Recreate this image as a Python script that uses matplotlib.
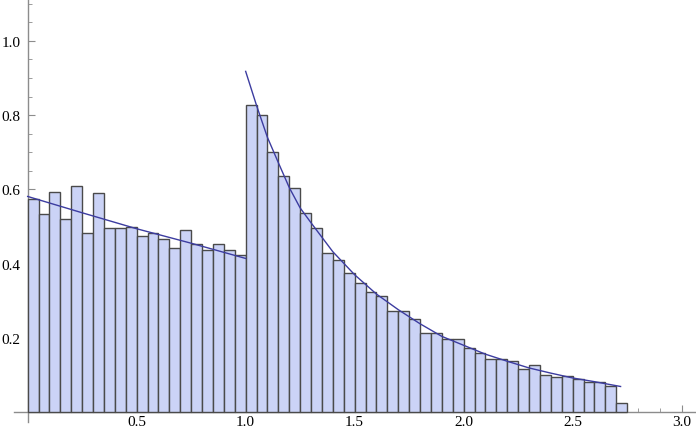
import numpy as np
import matplotlib.pyplot as plt
from matplotlib.ticker import FixedLocator

# histogram bins (width 0.05) starting at 0
bin_width = 0.05
heights = [
	0.574, 0.533, 0.592, 0.520, 0.610, 0.482, 0.590, 0.495, 0.495, 0.500,
	0.474, 0.483, 0.466, 0.441, 0.491, 0.454, 0.437, 0.452, 0.437, 0.422,
	0.828, 0.801, 0.702, 0.636, 0.605, 0.537, 0.496, 0.430, 0.411, 0.374,
	0.349, 0.323, 0.312, 0.273, 0.273, 0.252, 0.212, 0.212, 0.198, 0.198,
	0.174, 0.160, 0.142, 0.142, 0.138, 0.116, 0.127, 0.100, 0.094, 0.098,
	0.089, 0.080, 0.080, 0.071, 0.024,
]

# fitted density, left piece
fit_left_x = [0.0, 0.25, 0.5, 0.75, 1.0]
fit_left_y = [0.581, 0.537, 0.494, 0.455, 0.414]

# fitted density, right piece
fit_right_x = [1.0, 1.05, 1.1, 1.15, 1.2, 1.25, 1.3, 1.4, 1.5, 1.6, 1.7,
			   1.8, 1.9, 2.0, 2.1, 2.2, 2.3, 2.4, 2.5, 2.6, 2.72]
fit_right_y = [0.918, 0.826, 0.740, 0.672, 0.605, 0.550, 0.510, 0.432, 0.370,
			   0.318, 0.276, 0.238, 0.204, 0.180, 0.156, 0.137, 0.119, 0.105,
			   0.092, 0.082, 0.069]

x_ticks = [0.5, 1.0, 1.5, 2.0, 2.5, 3.0]
y_ticks = [0.2, 0.4, 0.6, 0.8, 1.0]

plt.rcParams['font.family'] = ['Liberation Serif', 'DejaVu Serif']

fig = plt.figure(figsize=(6.96, 4.35), dpi=100)
ax = fig.add_axes([0, 0, 1, 1])

lefts = np.arange(len(heights)) * bin_width
ax.bar(lefts, heights, width=bin_width, align="edge",
	   facecolor="#cbd3f6", edgecolor="#4a4a4a", linewidth=1.0, zorder=2)

curve_col = "#3c3ca0"
ax.plot(fit_left_x, fit_left_y, color=curve_col, lw=1.0, zorder=3)
ax.plot(fit_right_x, fit_right_y, color=curve_col, lw=1.0, zorder=3)

ax.set_xlim(-0.127, 3.066)
ax.set_ylim(-0.059, 1.113)

for s in ["top", "right"]:
	ax.spines[s].set_visible(False)
ax.spines["left"].set_position(("data", 0))
ax.spines["bottom"].set_position(("data", 0))
ax.spines["left"].set_bounds(-0.027, 1.113)
ax.spines["bottom"].set_bounds(-0.063, 3.066)
for s in ["left", "bottom"]:
	ax.spines[s].set_color("#8c8c8c")
	ax.spines[s].set_linewidth(1.0)
	ax.spines[s].set_zorder(1)

ax.xaxis.set_major_locator(FixedLocator(x_ticks))
ax.xaxis.set_minor_locator(FixedLocator(np.arange(1, 31) * 0.1))
ax.yaxis.set_major_locator(FixedLocator(y_ticks))
ax.yaxis.set_minor_locator(FixedLocator(np.arange(1, 23) * 0.05))
ax.set_xticklabels([f"{t:.1f}" for t in x_ticks])
ax.set_yticklabels([f"{t:.1f}" for t in y_ticks])

ax.tick_params(axis="both", which="both", direction="in", color="#8c8c8c",
			   labelsize=11, labelcolor="black")
ax.tick_params(axis="both", which="major", length=5, width=0.8)
ax.tick_params(axis="both", which="minor", length=3, width=0.6)
ax.tick_params(axis="x", which="major", pad=2)
ax.tick_params(axis="y", which="major", pad=5)

fig.savefig("out.png", dpi=100)
